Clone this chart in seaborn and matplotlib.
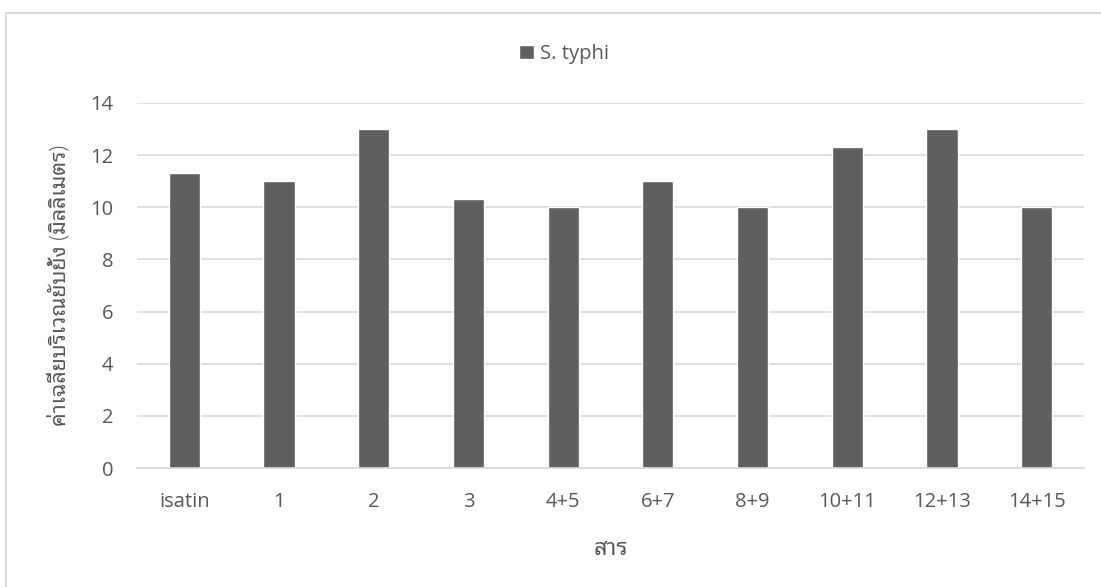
import matplotlib
matplotlib.use("Agg")
import matplotlib.pyplot as plt
import seaborn as sns
import pandas as pd
from matplotlib.patches import Rectangle

compounds = ["isatin", "1", "2", "3", "4+5", "6+7", "8+9", "10+11", "12+13", "14+15"]
s_typhi = [11.33, 11, 13, 10.33, 10, 11, 10, 12.33, 13, 10]
y_ticks = [0, 2, 4, 6, 8, 10, 12, 14]

series_name = "S. typhi"
x_title = "สาร"
y_title = "ค่าเฉลี่ยบริเวณยับยั้ง (มิลลิเมตร)"

df = pd.DataFrame({"compound": compounds, "zone": s_typhi, "series": series_name})

sns.set_theme(style="white")
plt.rcParams["font.family"] = ["Open Sans", "Noto Sans Thai Looped", "Noto Sans Thai",
                               "Sarabun", "Athiti", "DejaVu Sans"]

text_color = "#595959"
grid_color = "#d9d9d9"
bar_color = "#5f5f5f"

fig = plt.figure(figsize=(11.01, 5.87), dpi=100)
ax = fig.add_axes([137 / 1101, 1 - 468 / 587, (1084 - 137) / 1101, (468 - 103) / 587])

sns.barplot(data=df, x="compound", y="zone", hue="series", palette=[bar_color],
            width=0.33, ax=ax, legend=True, saturation=1)

ax.set_ylim(0, 14)
ax.set_yticks(y_ticks)
ax.set_yticklabels([str(v) for v in y_ticks])
ax.yaxis.grid(True, color=grid_color, linewidth=1.2)
ax.set_axisbelow(True)
for side in ["left", "right", "top"]:
    ax.spines[side].set_visible(False)
ax.spines["bottom"].set_color(grid_color)
ax.spines["bottom"].set_linewidth(1.2)
ax.tick_params(axis="both", length=0, labelsize=14.5, colors=text_color)
ax.tick_params(axis="x", pad=17)
ax.tick_params(axis="y", pad=17)

ax.set_xlabel(x_title, fontsize=17, color=text_color, labelpad=18, fontweight="light")
ax.set_ylabel(y_title, fontsize=15.5, color=text_color, labelpad=14, fontweight="light")

ax.legend(loc="center", bbox_to_anchor=(564 / 1101, 1 - 54 / 587),
          bbox_transform=fig.transFigure, frameon=False, fontsize=14.5,
          labelcolor=text_color, handlelength=0.75, handleheight=0.75,
          handletextpad=0.3)

# chart frame
fig.patches.append(Rectangle((6 / 1101, -0.01), 1.02, 1 - 13 / 587 + 0.01,
                             transform=fig.transFigure, fill=False,
                             edgecolor=grid_color, linewidth=1.5))

fig.savefig("out.png", dpi=100)
